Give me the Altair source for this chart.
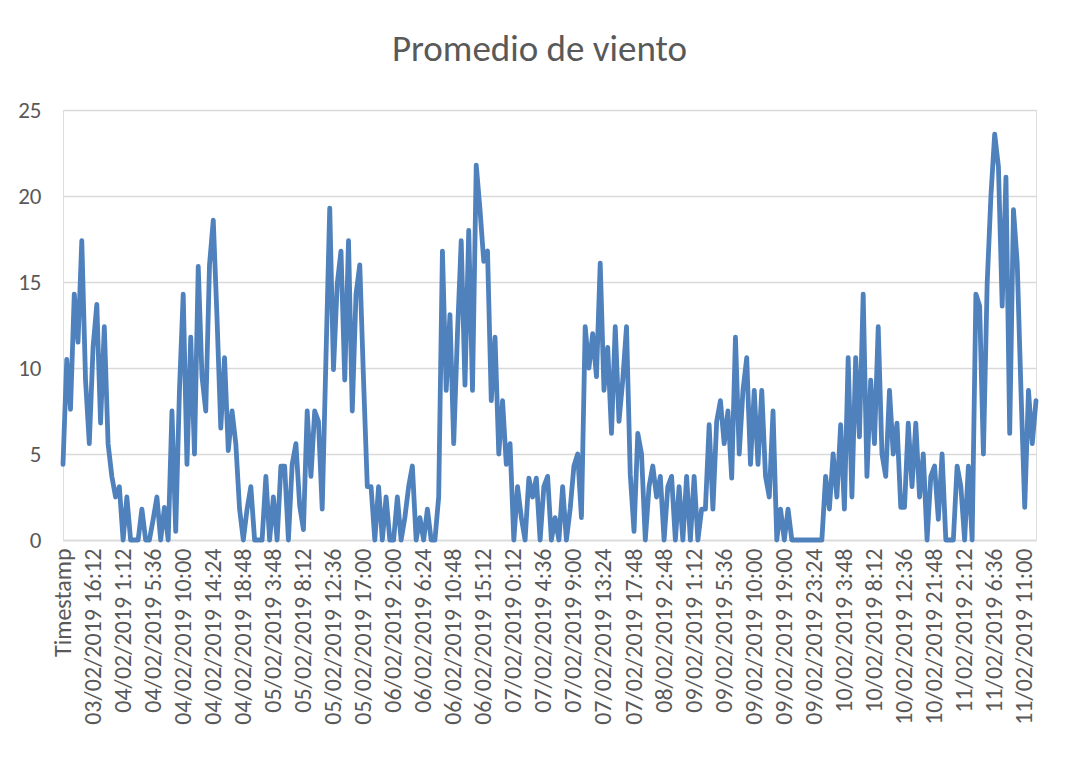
import json
import altair as alt
import pandas as pd

title_text = "Promedio de viento"

tick_labels = [
    "Timestamp", "03/02/2019 16:12", "04/02/2019 1:12", "04/02/2019 5:36",
    "04/02/2019 10:00", "04/02/2019 14:24", "04/02/2019 18:48", "05/02/2019 3:48",
    "05/02/2019 8:12", "05/02/2019 12:36", "05/02/2019 17:00", "06/02/2019 2:00",
    "06/02/2019 6:24", "06/02/2019 10:48", "06/02/2019 15:12", "07/02/2019 0:12",
    "07/02/2019 4:36", "07/02/2019 9:00", "07/02/2019 13:24", "07/02/2019 17:48",
    "08/02/2019 2:48", "09/02/2019 1:12", "09/02/2019 5:36", "09/02/2019 10:00",
    "09/02/2019 19:00", "09/02/2019 23:24", "10/02/2019 3:48", "10/02/2019 8:12",
    "10/02/2019 12:36", "10/02/2019 21:48", "11/02/2019 2:12", "11/02/2019 6:36",
    "11/02/2019 11:00",
]

# categories between two labelled ticks
step = 8

wind = [
    4.4, 10.5, 7.6, 14.3, 11.5, 17.4, 9.3, 5.6, 11.2, 13.7,
    6.8, 12.4, 5.6, 3.7, 2.5, 3.1, 0, 2.5, 0, 0,
    0, 1.8, 0, 0, 1.2, 2.5, 0, 1.9, 0, 7.5,
    0.5, 8.7, 14.3, 4.4, 11.8, 5.0, 15.9, 9.5, 7.5, 16.0,
    18.6, 12.9, 6.5, 10.6, 5.2, 7.5, 5.6, 1.8, 0, 1.8,
    3.1, 0, 0, 0, 3.7, 0, 2.5, 0, 4.3, 4.3,
    0, 4.4, 5.6, 2.0, 0.6, 7.5, 3.7, 7.5, 6.9, 1.8,
    10.6, 19.3, 9.9, 14.9, 16.8, 9.3, 17.4, 7.5, 14.3, 16.0,
    9.3, 3.1, 3.1, 0, 3.1, 0, 2.5, 0, 0, 2.5,
    0, 1.3, 3.1, 4.3, 0, 1.3, 0, 1.8, 0, 0,
    2.5, 16.8, 8.7, 13.1, 5.6, 12.0, 17.4, 9.0, 18.0, 8.7,
    21.8, 19.2, 16.2, 16.8, 8.1, 11.8, 5.0, 8.1, 4.4, 5.6,
    0, 3.1, 1.3, 0, 3.6, 2.5, 3.6, 0, 3.1, 3.7,
    0, 1.3, 0, 3.1, 0, 1.8, 4.3, 5.0, 1.3, 12.4,
    10.0, 12.0, 9.5, 16.1, 8.7, 11.2, 6.2, 12.4, 6.9, 9.3,
    12.4, 3.8, 0.5, 6.2, 5.0, 0, 3.1, 4.3, 2.5, 3.7,
    0, 3.1, 3.7, 0, 3.1, 0, 3.7, 0, 3.7, 0,
    1.8, 1.8, 6.7, 1.8, 6.9, 8.1, 5.6, 7.5, 3.6, 11.8,
    5.0, 8.7, 10.6, 4.4, 8.7, 4.4, 8.7, 3.7, 2.5, 7.5,
    0, 1.8, 0, 1.8, 0, 0, 0, 0, 0, 0,
    0, 0, 0, 3.7, 1.8, 5.0, 2.5, 6.7, 1.8, 10.6,
    2.5, 10.6, 6.0, 14.3, 3.7, 9.3, 5.6, 12.4, 5.0, 3.7,
    8.7, 5.0, 6.8, 1.9, 1.9, 6.8, 3.1, 6.8, 2.5, 5.0,
    0, 3.7, 4.3, 1.2, 5.0, 0, 0, 0, 4.3, 3.1,
    0, 4.3, 0, 14.3, 13.6, 5.0, 14.9, 20.0, 23.6, 21.7,
    13.6, 21.1, 6.2, 19.2, 16.1, 8.7, 1.9, 8.7, 5.6, 8.1,
]

df = pd.DataFrame({"idx": list(range(len(wind))), "viento": wind})

tick_values = [i * step for i in range(len(tick_labels))]
label_expr = json.dumps(tick_labels) + "[round(datum.value / %d)]" % step

font = "Carlito, Calibri, Lato, sans-serif"
text_color = "#595959"
grid_color = "#d9d9d9"

chart = (
    alt.Chart(df)
    .mark_line(color="#4f81bd", strokeWidth=4.8, strokeJoin="round", strokeCap="round")
    .encode(
        x=alt.X(
            "idx:Q",
            scale=alt.Scale(domain=[0, len(wind) - 1], nice=False, zero=False),
            axis=alt.Axis(
                values=tick_values,
                labelExpr=label_expr,
                labelAngle=-90,
                labelAlign="right",
                labelBaseline="middle",
                labelOverlap=False,
                labelFlush=False,
                labelBound=False,
                labelFont=font,
                labelFontSize=24,
                labelColor=text_color,
                labelPadding=8,
                ticks=False,
                grid=False,
                domain=True,
                domainColor=grid_color,
                domainWidth=1.5,
                title=None,
            ),
        ),
        y=alt.Y(
            "viento:Q",
            scale=alt.Scale(domain=[0, 25], nice=False),
            axis=alt.Axis(
                values=[0, 5, 10, 15, 20, 25],
                labelFont=font,
                labelFontSize=23,
                labelColor=text_color,
                labelPadding=22,
                ticks=False,
                domain=False,
                grid=True,
                gridColor=grid_color,
                gridWidth=1.5,
                title=None,
            ),
        ),
    )
    .properties(
        width=973,
        height=430,
        title=alt.TitleParams(
            title_text,
            font=font,
            fontSize=37,
            fontWeight="normal",
            color=text_color,
            anchor="middle",
            offset=30,
            dx=-10,
        ),
        autosize=alt.AutoSizeParams(type="none"),
        padding={"left": 55, "top": 102, "right": 20, "bottom": 205},
    )
    .configure_view(stroke=None)
    .configure(background="white")
)

chart.save("out.html", embed_options={"renderer": "svg", "actions": False})
